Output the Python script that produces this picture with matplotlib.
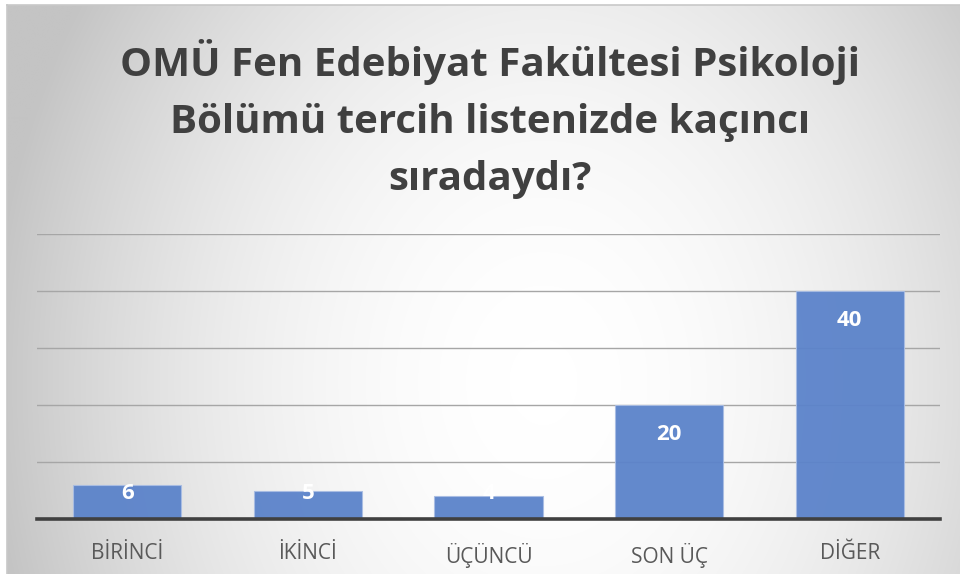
import numpy as np
import matplotlib
matplotlib.use("Agg")
import matplotlib.pyplot as plt
from matplotlib.colors import LinearSegmentedColormap

# Chart data
categories = ["BİRİNCİ", "İKİNCİ", "ÜÇÜNCÜ", "SON ÜÇ", "DİĞER"]
values = [6, 5, 4, 20, 40]
title = "OMÜ Fen Edebiyat Fakültesi Psikoloji\nBölümü tercih listenizde kaçıncı\nsıradaydı?"

plt.rcParams["font.family"] = ["Open Sans", "DejaVu Sans"]

W, H = 960, 574
fig = plt.figure(figsize=(W / 100, H / 100), dpi=100)
fig.patch.set_facecolor("white")

# Radial gradient background (white centre, grey edges)
bg = fig.add_axes([7 / W, 0, 1 - 7 / W, 1 - 5 / H])
gx, gy = np.meshgrid(np.arange(W), np.arange(H))
r = np.sqrt(((gx - 540) / 560) ** 2 + ((gy - 380) / 700) ** 2)
shade = np.clip(r, 0, 1) ** 2
cmap = LinearSegmentedColormap.from_list("bg", ["#ffffff", "#c4c4c4"])
bg.imshow(shade, cmap=cmap, vmin=0, vmax=1, aspect="auto", extent=(0, 1, 0, 1))
bg.set_xticks([])
bg.set_yticks([])
for side in ["right", "bottom"]:
    bg.spines[side].set_visible(False)
for side in ["top", "left"]:
    bg.spines[side].set_color("#c8c8c8")
    bg.spines[side].set_linewidth(1.2)
bg.set_zorder(0)

# Plot area
ax = fig.add_axes([37 / W, 1 - 519 / H, (940 - 37) / W, (519 - 234) / H])
ax.set_zorder(1)
ax.patch.set_alpha(0)

x = np.arange(len(categories))
bars = ax.bar(x, values, width=0.6, color="#5b83ca", edgecolor="#a9bde3",
              linewidth=0.8, alpha=0.95, zorder=2)

ax.set_xlim(-0.5, len(categories) - 0.5)
ax.set_ylim(0, 50)
ax.set_yticks([10, 20, 30, 40, 50])
ax.yaxis.grid(True, color="#a6a6a6", linewidth=1.0, zorder=1)
ax.set_axisbelow(True)
ax.tick_params(axis="y", left=False, labelleft=False)
ax.tick_params(axis="x", length=0, pad=17, labelsize=15, colors="#595959")
ax.set_xticks(x)
ax.set_xticklabels(categories)
for side in ["top", "right", "left"]:
    ax.spines[side].set_visible(False)
ax.spines["bottom"].set_color("#404040")
ax.spines["bottom"].set_linewidth(2.6)
ax.spines["bottom"].set_zorder(3)

# Data labels, inside end (kept low for short bars)
for bar, value in zip(bars, values):
    y = max(value - 5.1, 4.5)
    ax.text(bar.get_x() + bar.get_width() / 2, y, str(value),
            ha="center", va="center", fontsize=16, fontweight="bold",
            color="white", zorder=4)

fig.text(490 / W, 1 - 39 / H, title, ha="center", va="top",
         fontsize=29, fontweight="bold", color="#404040", linespacing=1.6)

fig.savefig("out.png", dpi=100)
